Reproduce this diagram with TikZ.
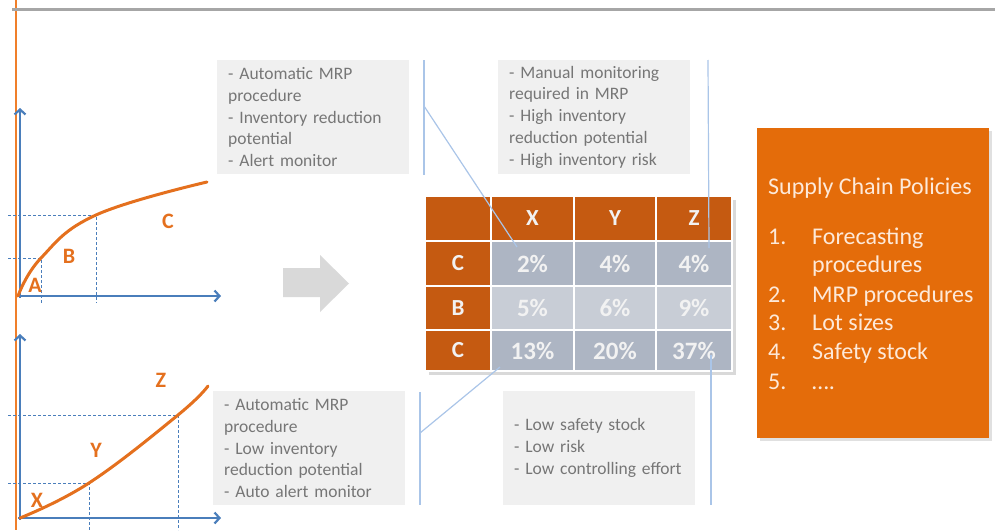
\documentclass[tikz,border=0pt]{standalone}
\usepackage{fontspec}
\setmainfont{Carlito}
\usetikzlibrary{arrows.meta}

\definecolor{axisblue}{RGB}{74,126,187}
\definecolor{curveorange}{RGB}{228,112,30}
\definecolor{boxorange}{RGB}{228,108,10}
\definecolor{headorange}{RGB}{197,90,17}
\definecolor{celldark}{RGB}{173,181,195}
\definecolor{celllight}{RGB}{200,205,214}
\definecolor{notegray}{RGB}{240,240,240}
\definecolor{notetext}{RGB}{118,118,118}
\definecolor{leaderblue}{RGB}{170,197,232}
\definecolor{arrowgray}{RGB}{217,217,217}
\definecolor{paleorange}{RGB}{253,233,217}
\definecolor{edgeorange}{RGB}{240,127,42}

\tikzset{
  axis/.style={axisblue, line width=2.2pt, -{Straight Barb[length=5pt, width=11pt]}},
  guide/.style={axisblue, densely dashed, line width=0.7pt},
  curve/.style={curveorange, line width=3pt, line cap=round},
  letter/.style={text=curveorange, font=\fontsize{22}{22}\selectfont\bfseries, inner sep=0pt},
  note/.style={fill=notegray, text=notetext, align=left, anchor=north west,
    minimum width=192pt, minimum height=114pt, text width=170pt, inner xsep=11pt,
    font=\fontsize{17.5}{21.8}\selectfont},
  leader/.style={leaderblue, line width=1.2pt},
  cell/.style={draw=white, line width=1.5pt, inner sep=0pt, text=white!95!black,
    font=\fontsize{25}{25}\selectfont\bfseries},
  headcell/.style={cell, fill=headorange, font=\fontsize{23}{23}\selectfont\bfseries},
  pol/.style={anchor=west, inner sep=0pt, text=paleorange, text height=0.7em, text depth=0.2em,
    font=\fontsize{24}{29}\selectfont}
}

\begin{document}
\begin{tikzpicture}[x=1pt, y=-1pt]
    \useasboundingbox (0,0) rectangle (995,530);

    % Frame lines
    \draw[edgeorange, line width=1.8pt] (16,0) -- (16,530);
    \draw[black!35, line width=3pt] (12,9) -- (995,9);

    % Upper graph (A, B, C)
    \draw[guide] (8,215) -- (96,215) -- (96,303);
    \draw[guide] (8,258) -- (41,258) -- (41,303);
    \draw[axis] (20,298) -- (20,108);
    \draw[axis] (18,296) -- (221,296);
    \draw[curve] plot[smooth, tension=0.7] coordinates {(18,296) (41,258) (96,215) (207,182)};
    \node[letter] (A) at (35,285) {A};
    \node[letter] (B) at (69,256) {B};
    \node[letter] (C) at (168,221) {C};

    % Lower graph (X, Y, Z)
    \draw[guide] (8,415) -- (178,415) -- (178,530);
    \draw[guide] (8,483) -- (89,483) -- (89,530);
    \draw[axis] (20,520) -- (20,334);
    \draw[axis] (18,518) -- (221,518);
    \draw[curve] plot[smooth, tension=0.7] coordinates {(20,518) (89,483) (178,415) (208,386)};
    \node[letter] (X) at (37,500) {X};
    \node[letter] (Y) at (96,450) {Y};
    \node[letter] (Z) at (161,380) {Z};

    % Gray arrow
    \fill[arrowgray] (283,268) -- (320,268) -- (320,255) -- (349,283.5)
        -- (320,312) -- (320,297) -- (283,297) -- cycle;

    % Notes
    \node[note] (note1) at (217,60) {- Automatic MRP\\procedure\\- Inventory reduction\\potential\\- Alert monitor};
    \node[note] (note2) at (498,60) {- Manual monitoring\\required in MRP\\- High inventory\\reduction potential\\- High inventory risk};
    \node[note] (note3) at (213,391) {- Automatic MRP\\procedure\\- Low inventory\\reduction potential\\- Auto alert monitor};
    \node[note] (note4) at (503,391) {- Low safety stock\\- Low risk\\- Low controlling effort};

    % Table
    \fill[black!15] (429,200) rectangle (736,375);
    \foreach \col/\cx/\cw/\txt in {0/458/66/{}, 1/532.5/83/X, 2/615/82/Y, 3/694/76/Z}
        \node[headcell, minimum width=\cw pt, minimum height=45pt] (h\col) at (\cx,218.5) {\txt};
    \foreach \row/\cy/\rh/\lab/\fillc/\a/\b/\c in {1/263.5/45/C/celldark/2\%/4\%/4\%,
                                                 2/308/44/B/celllight/5\%/6\%/9\%,
                                                 3/350.5/41/C/celldark/13\%/20\%/37\%} {
        \node[headcell, minimum width=66pt, minimum height=\rh pt] (r\row) at (458,\cy) {\lab};
        \node[cell, fill=\fillc, minimum width=83pt, minimum height=\rh pt] (c\row1) at (532.5,\cy) {\a};
        \node[cell, fill=\fillc, minimum width=82pt, minimum height=\rh pt] (c\row2) at (615,\cy) {\b};
        \node[cell, fill=\fillc, minimum width=76pt, minimum height=\rh pt] (c\row3) at (694,\cy) {\c};
    }

    % Leaders
    \coordinate (t1) at (424,60);
    \coordinate (b1) at (424,175);
    \coordinate (k1) at (424,106);
    \coordinate (p1) at (517,247);
    \coordinate (t2) at (708,60);
    \coordinate (p2) at (709,248);
    \coordinate (t3) at (420,392);
    \coordinate (b3) at (420,505);
    \coordinate (k3) at (420,433);
    \coordinate (p3) at (500,367);
    \coordinate (p4) at (711,355);
    \coordinate (b4) at (711,505);
    \draw[leader] (t1) -- (b1);
    \draw[leader] (k1) -- (p1);
    \draw[leader] (t2) -- (p2);
    \draw[leader] (t3) -- (b3);
    \draw[leader] (k3) -- (p3);
    \draw[leader] (p4) -- (b4);

    % Policies box
    \fill[black!12] (760,131) rectangle (992,441);
    \node[fill=boxorange, anchor=north west, inner sep=0pt,
          minimum width=232pt, minimum height=310pt] (policies) at (757,128) {};
    \node[pol] (title) at (768,192) {Supply Chain Policies};
    \foreach \n/\yy in {1/242, 2/300, 3/328, 4/357, 5/387}
        \node[pol] (num\n) at (768,\yy) {\n.};
    \foreach \k/\yy/\txt in {1/242/Forecasting, 1b/270/procedures, 2/300/MRP procedures,
                            3/328/Lot sizes, 4/357/Safety stock}
        \node[pol] (item\k) at (812,\yy) {\txt};
    \node[pol] (item5) at (812,387) {\ldots.};
\end{tikzpicture}
\end{document}
